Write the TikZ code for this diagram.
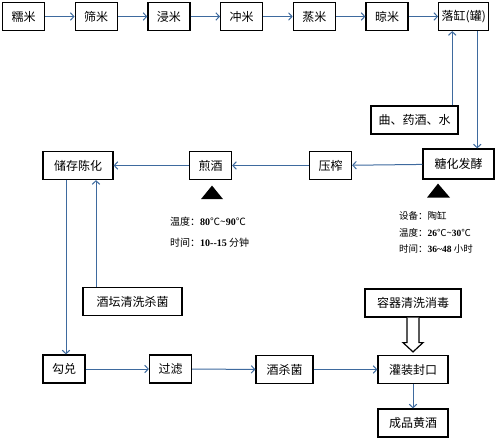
\documentclass[tikz,border=0pt]{standalone}
\usepackage{fontspec}
\setmainfont{Noto Sans CJK SC}
\newfontfamily\numfont{Liberation Serif}
\usetikzlibrary{arrows.meta,positioning,calc}
\definecolor{flowblue}{RGB}{62,106,158}
\tikzset{
  box/.style={draw=black, line width=1.2pt, fill=white, minimum height=28pt,
    minimum width=42pt, align=center, inner sep=3pt, font=\fontsize{12}{14}\selectfont},
  flow/.style={-{Straight Barb[length=3.5pt,width=7.5pt]}, line width=1pt, draw=flowblue},
  hollow/.style={draw=black, line width=1.2pt, fill=white, line join=miter},
  note/.style={anchor=west, inner sep=0pt, font=\fontsize{10}{12}\selectfont}
}
\newcommand{\nbf}[1]{{\numfont\bfseries #1}}

\begin{document}
\begin{tikzpicture}[x=1pt, y=-1pt, node distance=29.5pt]
  \useasboundingbox (0,0) rectangle (500,442);
  % top row
  \node[box] (rice) at (23.5,16.5) {糯米};
  \node[box, right=of rice] (sieve) {筛米};
  \node[box, right=of sieve] (soak) {浸米};
  \node[box, right=of soak] (rinse) {冲米};
  \node[box, right=of rinse] (steam) {蒸米};
  \node[box, right=of steam] (cool) {晾米};
  \node[box, right=of cool] (jar) {落缸(罐)};
  \draw[flow] (rice) -- (sieve);
  \draw[flow] (sieve) -- (soak);
  \draw[flow] (soak) -- (rinse);
  \draw[flow] (rinse) -- (steam);
  \draw[flow] (steam) -- (cool);
  \draw[flow] (cool) -- (jar);

  % fermentation
  \node[box, minimum width=87pt] (qu) at (414.5,120) {曲、药酒、水};
  \node[box, minimum width=71pt, minimum height=30pt] (ferment) at (458.5,164) {糖化发酵};
  \node[box] (press) at (330.5,165.5) {压榨};
  \node[box] (boil) at (210.5,165.5) {煎酒};
  \node[box, minimum width=70pt] (store) at (78,165.5) {储存陈化};
  \coordinate (jarin) at ([xshift=-11.5pt]jar.south);
  \coordinate (jarout) at ([xshift=13.5pt]jar.south);
  \draw[flow] (jarin |- qu.north) -- (jarin);
  \draw[flow] (jarout) -- (jarout |- ferment.north);
  \draw[flow] (ferment) -- (press);
  \draw[flow] (press) -- (boil);
  \draw[flow] (boil) -- (store);

  % marks and conditions
  \fill ($(ferment.south)+(-31.5,18)$) -- ($(ferment.south)+(-20.5,4)$)
    -- ($(ferment.south)+(-8.5,18)$) -- cycle;
  \fill ($(boil.south)+(-9.5,19)$) -- ($(boil.south)+(1.5,5.5)$)
    -- ($(boil.south)+(12.5,19)$) -- cycle;
  \node[note] (boiltemp) at (170,222) {温度：\nbf{80}℃\textasciitilde\nbf{90}℃};
  \node[note] (boiltime) at (170,243) {时间：\nbf{10--15} 分钟};
  \node[note, font=\fontsize{9.5}{11}\selectfont] (ferdev) at (399,216) {设备：陶缸};
  \node[note, font=\fontsize{9.5}{11}\selectfont] (fertemp) at (399,232.5) {温度：\nbf{26}℃\textasciitilde\nbf{30}℃};
  \node[note, font=\fontsize{9.5}{11}\selectfont] (fertime) at (399,249) {时间：\nbf{36\textasciitilde48} 小时};

  % storage and bottling
  \node[box, minimum width=99pt] (clean) at (132.5,301.5) {酒坛清洗杀菌};
  \node[box] (blend) at (64,369) {勾兑};
  \node[box] (filter) at (170.5,369) {过滤};
  \node[box, minimum width=57pt] (steril) at (284.5,369.5) {酒杀菌};
  \node[box, minimum width=70pt] (fill) at (413,369.5) {灌装封口};
  \node[box, minimum width=96pt] (disinfect) at (413,303) {容器清洗消毒};
  \node[box, minimum width=70pt] (product) at (413,423) {成品黄酒};
  \coordinate (storeout) at ([xshift=-12pt]store.south);
  \coordinate (storein) at ([xshift=18pt]store.south);
  \draw[flow] (storeout) -- (storeout |- blend.north);
  \draw[flow] (storein |- clean.north) -- (storein);
  \draw[flow] (blend) -- (filter);
  \draw[flow] (filter) -- (steril);
  \draw[flow] (steril) -- (fill);
  \draw[flow] (fill) -- (product);
  \draw[hollow] ($(disinfect.south)+(-6,0)$) -- ($(disinfect.south)+(-6,25)$)
    -- ($(disinfect.south)+(-10,25)$) -- ($(fill.north)+(0,-3)$)
    -- ($(disinfect.south)+(10,25)$) -- ($(disinfect.south)+(6,25)$)
    -- ($(disinfect.south)+(6,0)$);
\end{tikzpicture}
\end{document}
